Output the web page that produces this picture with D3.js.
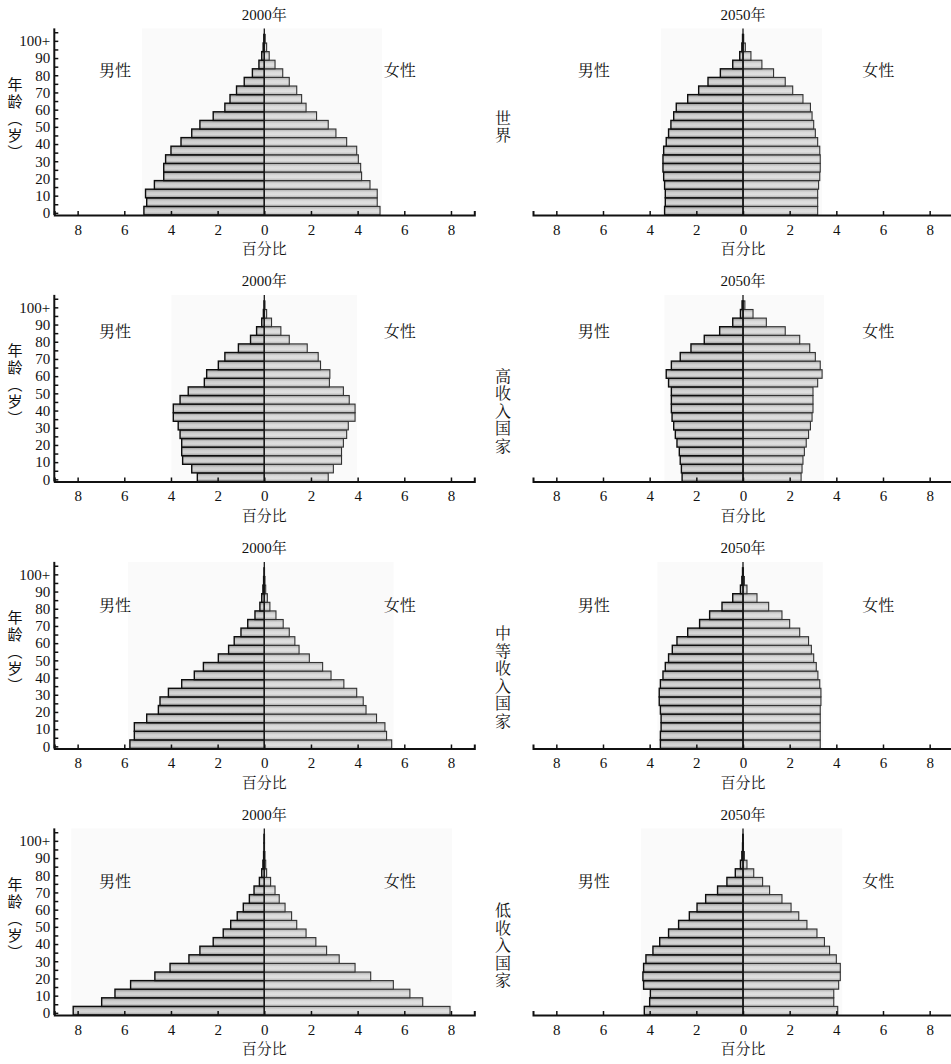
<!DOCTYPE html>
<html>
<head>
<meta charset="utf-8">
<script src="https://cdn.jsdelivr.net/npm/d3@7"></script>
<style>
  body { margin: 0; background: white; }
  svg text { font-family: "Liberation Serif", "Noto Serif CJK SC", "Noto Sans CJK SC", serif; fill: #111; }
</style>
</head>
<body>
<div id="chart"></div>
<script>
// age groups 0-4 ... 100+
const ageGroups = ["0-4","5-9","10-14","15-19","20-24","25-29","30-34","35-39","40-44","45-49",
  "50-54","55-59","60-64","65-69","70-74","75-79","80-84","85-89","90-94","95-99","100+"];
const ageTickLabels = ["0","10","20","30","40","50","60","70","80","90","100+"];
const xTickValues = [-8,-6,-4,-2,0,2,4,6,8];
const years = ["2000年","2050年"];
const regions = ["世界","高收入国家","中等收入国家","低收入国家"];

// percent of population, bottom (0-4) to top (100+)
const world2000Male   = [5.16,5.04,5.09,4.71,4.31,4.31,4.23,4.00,3.57,3.11,2.76,2.19,1.69,1.47,1.19,0.86,0.51,0.23,0.11,0.05,0.02];
const world2000Female = [4.96,4.84,4.84,4.53,4.17,4.13,4.03,3.96,3.53,3.07,2.74,2.24,1.79,1.60,1.39,1.07,0.79,0.46,0.21,0.10,0.04];
const world2050Male   = [3.36,3.33,3.33,3.36,3.40,3.43,3.43,3.40,3.29,3.19,3.09,2.97,2.86,2.37,1.90,1.50,0.97,0.44,0.14,0.05,0.02];
const world2050Female = [3.20,3.20,3.20,3.24,3.29,3.31,3.31,3.29,3.20,3.10,3.03,2.96,2.89,2.57,2.13,1.81,1.31,0.81,0.34,0.10,0.03];
const high2000Male    = [2.87,3.11,3.50,3.54,3.54,3.61,3.69,3.90,3.90,3.61,3.26,2.57,2.47,1.97,1.69,1.11,0.59,0.33,0.11,0.04,0.01];
const high2000Female  = [2.74,2.96,3.31,3.31,3.39,3.53,3.60,3.89,3.89,3.64,3.39,2.79,2.81,2.41,2.31,1.84,1.07,0.71,0.31,0.10,0.03];
const high2050Male    = [2.61,2.64,2.69,2.73,2.83,2.90,2.97,3.04,3.07,3.07,3.07,3.19,3.29,3.07,2.69,2.23,1.66,1.00,0.44,0.11,0.04];
const high2050Female  = [2.49,2.53,2.57,2.63,2.71,2.81,2.89,2.96,3.00,3.00,3.00,3.20,3.39,3.31,3.10,2.86,2.43,1.81,1.00,0.43,0.08];
const mid2000Male     = [5.76,5.57,5.57,5.04,4.54,4.47,4.11,3.54,3.00,2.61,1.97,1.53,1.29,1.00,0.71,0.40,0.19,0.11,0.06,0.03,0.01];
const mid2000Female   = [5.46,5.24,5.17,4.81,4.36,4.24,3.96,3.41,2.86,2.50,1.93,1.49,1.31,1.07,0.81,0.50,0.24,0.13,0.06,0.03,0.01];
const mid2050Male     = [3.54,3.54,3.51,3.51,3.54,3.59,3.59,3.54,3.43,3.33,3.19,3.03,2.83,2.37,1.86,1.43,0.90,0.44,0.11,0.05,0.02];
const mid2050Female   = [3.31,3.31,3.31,3.31,3.31,3.34,3.34,3.29,3.21,3.14,3.03,2.93,2.81,2.43,2.00,1.67,1.10,0.60,0.17,0.06,0.02];
const low2000Male     = [8.19,6.97,6.40,5.73,4.69,4.04,3.23,2.76,2.19,1.76,1.44,1.16,0.90,0.64,0.44,0.21,0.11,0.06,0.03,0.01,0.01];
const low2000Female   = [7.96,6.79,6.24,5.53,4.56,3.89,3.21,2.67,2.21,1.79,1.39,1.17,0.89,0.64,0.46,0.27,0.10,0.06,0.03,0.01,0.01];
const low2050Male     = [4.23,4.00,3.97,4.26,4.29,4.26,4.16,3.86,3.57,3.19,2.76,2.30,1.97,1.60,1.09,0.69,0.33,0.11,0.05,0.02,0.01];
const low2050Female   = [4.06,3.89,3.89,4.10,4.17,4.17,4.00,3.71,3.49,3.17,2.74,2.39,2.06,1.67,1.14,0.84,0.46,0.17,0.06,0.02,0.01];

const seriesByRow = [
  [[world2000Male, world2000Female], [world2050Male, world2050Female]],
  [[high2000Male, high2000Female], [high2050Male, high2050Female]],
  [[mid2000Male, mid2000Female], [mid2050Male, mid2050Female]],
  [[low2000Male, low2000Female], [low2050Male, low2050Female]]
];

// layout
const W = 951, H = 1064;
const rowAxisY = [215, 481.5, 748.5, 1015];
const colZeroX = [264.3, 743];
const sexLabelDy = [-145, -151, -144, -134];
const regionLabelDy = [-88, -70, -71, -69];
const halfWidth = 210;   // px for 9 percent
const barH = 8.6;

let svg = d3.select("#chart").append("svg")
  .attr("width", W)
  .attr("height", H)
  .attr("viewBox", `0 0 ${W} ${H}`);

let defs = svg.append("defs");
const grads = [
  {id: "gMale", stops: ["#8e8e8e", "#cdcdcd", "#d6d6d6", "#989898"]},
  {id: "gFemale", stops: ["#a9a9a9", "#dadada", "#e0e0e0", "#b2b2b2"]}
];
grads.forEach(g => {
  let lg = defs.append("linearGradient").attr("id", g.id)
    .attr("x1", 0).attr("y1", 0).attr("x2", 0).attr("y2", 1);
  [0, 0.35, 0.65, 1].forEach((o, i) => {
    lg.append("stop").attr("offset", o).attr("stop-color", g.stops[i]);
  });
});

seriesByRow.forEach((row, r) => {
  const axisY = rowAxisY[r];
  const y = d3.scaleLinear().domain([0, 22]).range([axisY, axisY - 22 * barH]);

  row.forEach((pair, c) => {
    const [male, female] = pair;
    const x = d3.scaleLinear().domain([-9, 9])
      .range([colZeroX[c] - halfWidth, colZeroX[c] + halfWidth]);
    let g = svg.append("g");

    // faint background behind the pyramid
    g.append("rect")
      .attr("x", x(-d3.max(male) - 0.08))
      .attr("y", y(21.7))
      .attr("width", x(d3.max(female) + 0.08) - x(-d3.max(male) - 0.08))
      .attr("height", axisY - y(21.7))
      .attr("fill", "#fafafa");

    // title
    g.append("text")
      .attr("x", x(0))
      .attr("y", axisY - 195.5)
      .attr("text-anchor", "middle")
      .style("font-size", "15px")
      .text(years[c]);

    // bars
    g.selectAll(".female")
      .data(female)
      .enter()
      .append("rect")
      .attr("x", x(0))
      .attr("y", (d, i) => y(i + 1))
      .attr("width", d => x(d) - x(0))
      .attr("height", (d, i) => y(i) - y(i + 1))
      .attr("fill", "url(#gFemale)")
      .attr("stroke", "#333")
      .attr("stroke-width", 1.1);

    g.selectAll(".male")
      .data(male)
      .enter()
      .append("rect")
      .attr("x", d => x(-d))
      .attr("y", (d, i) => y(i + 1))
      .attr("width", d => x(0) - x(-d))
      .attr("height", (d, i) => y(i) - y(i + 1))
      .attr("fill", "url(#gMale)")
      .attr("stroke", "#0d0d0d")
      .attr("stroke-width", 1.4);

    // centre spike
    g.append("line")
      .attr("x1", x(0)).attr("x2", x(0))
      .attr("y1", axisY).attr("y2", y(21.7))
      .attr("stroke", "#1a1a1a")
      .attr("stroke-width", 1.3);

    // x axis
    let xAxis = d3.axisBottom(x)
      .tickValues(xTickValues)
      .tickSize(-4)
      .tickPadding(9)
      .tickFormat(d => Math.abs(d));
    let ax = g.append("g")
      .attr("transform", `translate(0,${axisY})`)
      .call(xAxis);
    ax.select(".domain").attr("stroke", "#111").attr("stroke-width", 2);
    ax.selectAll(".tick line").attr("stroke", "#111").attr("stroke-width", 1.5);
    ax.selectAll("text")
      .style("font-size", "15px")
      .style("font-family", "Liberation Serif, serif")
      .attr("fill", "#111");

    g.append("text")
      .attr("x", x(0))
      .attr("y", axisY + 39)
      .attr("text-anchor", "middle")
      .style("font-size", "15px")
      .text("百分比");

    // sex labels
    g.append("text")
      .attr("x", x(-6.4))
      .attr("y", axisY + sexLabelDy[r] + 6)
      .attr("text-anchor", "middle")
      .style("font-size", "16px")
      .text("男性");
    g.append("text")
      .attr("x", x(5.8))
      .attr("y", axisY + sexLabelDy[r] + 6)
      .attr("text-anchor", "middle")
      .style("font-size", "16px")
      .text("女性");

    // y axis only on the left column
    if (c === 0) {
      const tickIdx = d3.range(22);
      let yAxis = d3.axisLeft(d3.scaleLinear().domain([0, 22]).range(y.range()))
        .tickValues(tickIdx.map(i => i + 0.25))
        .tickSize(-4)
        .tickPadding(4)
        .tickFormat((d, i) => (i % 2 === 0 && i / 2 < ageTickLabels.length) ? ageTickLabels[i / 2] : "");
      let ay = g.append("g")
        .attr("transform", `translate(${x(-9)},0)`)
        .call(yAxis);
      ay.select(".domain").remove();
      ay.append("line")
        .attr("x1", 0).attr("x2", 0)
        .attr("y1", axisY).attr("y2", y(21.7))
        .attr("stroke", "#111").attr("stroke-width", 2);
      ay.selectAll(".tick line").attr("stroke", "#111").attr("stroke-width", 1.5);
      ay.selectAll("text")
        .style("font-size", "15px")
        .style("font-family", "Liberation Serif, serif")
        .attr("fill", "#111");

      // vertical axis title
      g.append("text")
        .attr("x", 15)
        .attr("y", axisY - 96)
        .attr("text-anchor", "middle")
        .style("writing-mode", "vertical-rl")
        .style("font-family", "Noto Sans CJK SC, sans-serif")
        .style("font-size", "15px")
        .style("letter-spacing", "2px")
        .text("年龄（岁）");
    } else {
      // region label between columns, written vertically
      g.append("text")
        .attr("x", 502)
        .attr("y", axisY + regionLabelDy[r])
        .attr("text-anchor", "middle")
        .style("writing-mode", "vertical-rl")
        .style("font-size", "16px")
        .style("letter-spacing", "1.5px")
        .text(regions[r]);
    }
  });
});
</script>
</body>
</html>
